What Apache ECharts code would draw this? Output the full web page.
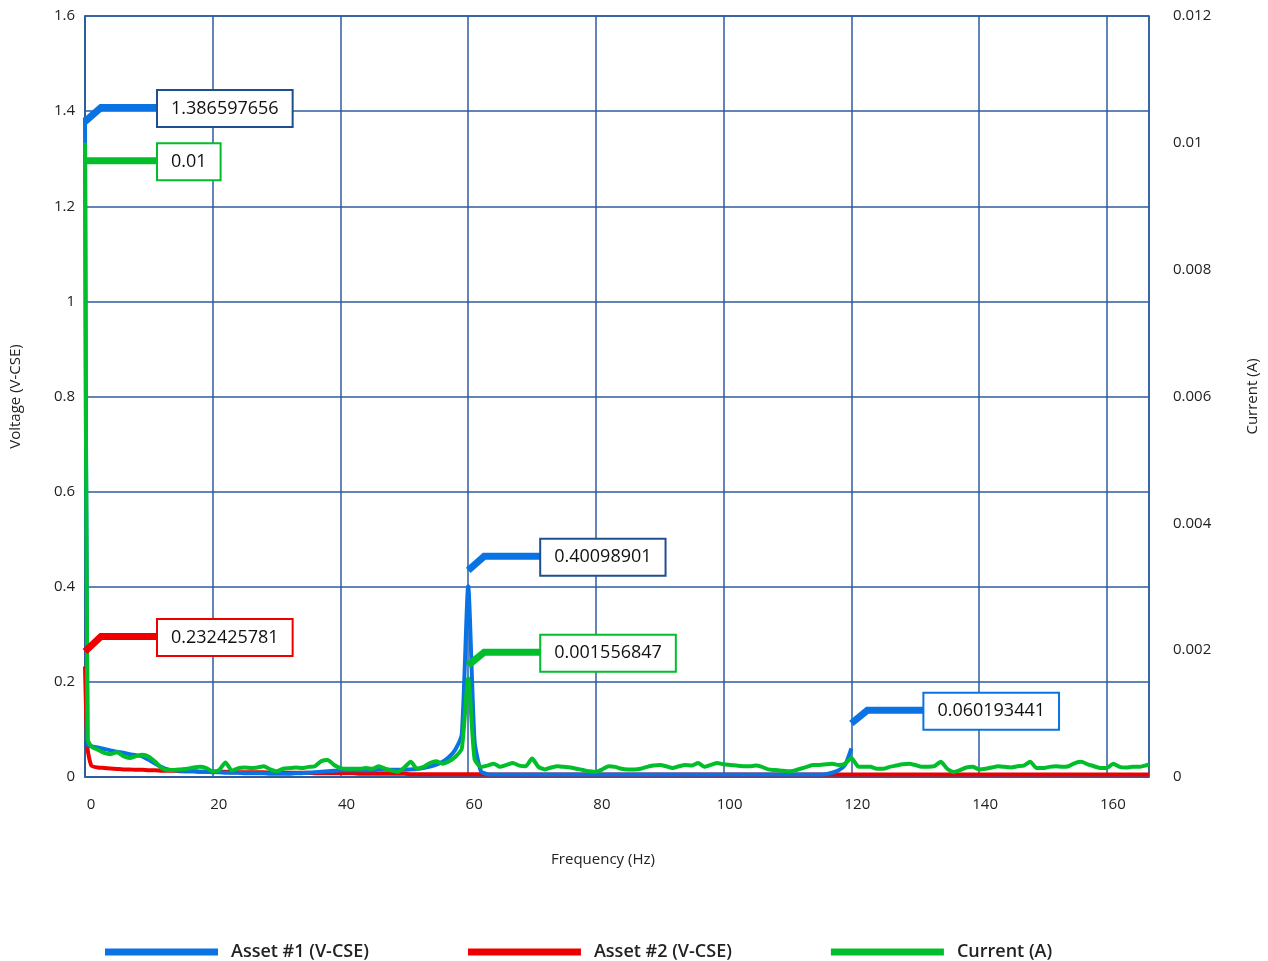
<!DOCTYPE html>
<html>
<head>
<meta charset="utf-8">
<title>Frequency spectrum</title>
<script src="https://cdn.jsdelivr.net/npm/echarts@6/dist/echarts.min.js"></script>
<style>
  html, body { margin: 0; padding: 0; background: #ffffff; }
  #chart { width: 1268px; height: 961px; }
</style>
</head>
<body>
<div id="chart"></div>
<script>
// Frequency bins (Hz)
var frequency = [
  0, 0.4, 1, 2, 3, 4, 5, 6, 7, 8, 9,
  10, 11, 12, 13, 14, 15, 16, 17, 18, 19,
  20, 21, 22, 23, 24, 25, 26, 27, 28, 29,
  30, 31, 32, 33, 34, 35, 36, 37, 38, 39,
  40, 41, 42, 43, 44, 45, 46, 47, 48, 49,
  50, 51, 52, 53, 54, 55, 56, 57, 58, 59,
  60, 61, 62, 63, 64, 65, 66, 67, 68, 69,
  70, 71, 72, 73, 74, 75, 76, 77, 78, 79,
  80, 81, 82, 83, 84, 85, 86, 87, 88, 89,
  90, 91, 92, 93, 94, 95, 96, 97, 98, 99,
  100, 101, 102, 103, 104, 105, 106, 107, 108, 109,
  110, 111, 112, 113, 114, 115, 116, 117, 118, 119,
  120, 121, 122, 123, 124, 125, 126, 127, 128, 129,
  130, 131, 132, 133, 134, 135, 136, 137, 138, 139,
  140, 141, 142, 143, 144, 145, 146, 147, 148, 149,
  150, 151, 152, 153, 154, 155, 156, 157, 158, 159,
  160, 161, 162, 163, 164, 165, 166, 166.6
];

// Asset #1 voltage (V-CSE), recorded up to 120 Hz
var asset1 = [
  1.386597656, 0.068, 0.065, 0.062, 0.059, 0.056, 0.053, 0.051, 0.048, 0.046, 0.043,
  0.036, 0.028, 0.021, 0.016, 0.014, 0.013, 0.012, 0.012, 0.011, 0.011,
  0.010, 0.010, 0.009, 0.009, 0.009, 0.008, 0.008, 0.008, 0.008, 0.007,
  0.007, 0.007, 0.007, 0.008, 0.008, 0.009, 0.010, 0.011, 0.012, 0.013,
  0.014, 0.014, 0.014, 0.014, 0.014, 0.014, 0.015, 0.015, 0.015, 0.015,
  0.015, 0.016, 0.017, 0.019, 0.022, 0.026, 0.032, 0.042, 0.058, 0.090,
  0.40098901, 0.075, 0.012, 0.006, 0.005, 0.005, 0.005, 0.005, 0.005, 0.005,
  0.005, 0.005, 0.005, 0.005, 0.005, 0.005, 0.005, 0.005, 0.005, 0.005,
  0.005, 0.005, 0.005, 0.005, 0.005, 0.005, 0.005, 0.005, 0.005, 0.005,
  0.005, 0.005, 0.005, 0.005, 0.005, 0.005, 0.005, 0.005, 0.005, 0.005,
  0.005, 0.005, 0.005, 0.005, 0.005, 0.005, 0.005, 0.005, 0.005, 0.005,
  0.005, 0.005, 0.005, 0.005, 0.005, 0.005, 0.006, 0.009, 0.014, 0.025,
  0.060193441
];

// Asset #2 voltage (V-CSE)
var asset2 = [
  0.232425781, 0.060, 0.024, 0.020, 0.019, 0.018, 0.017, 0.016, 0.016, 0.015, 0.015,
  0.014, 0.014, 0.013, 0.013, 0.013, 0.012, 0.012, 0.012, 0.011, 0.011,
  0.011, 0.011, 0.011, 0.010, 0.010, 0.010, 0.010, 0.010, 0.010, 0.009,
  0.009, 0.009, 0.009, 0.009, 0.009, 0.009, 0.008, 0.008, 0.008, 0.008,
  0.008, 0.008, 0.008, 0.007, 0.007, 0.007, 0.007, 0.007, 0.007, 0.007,
  0.007, 0.006, 0.006, 0.006, 0.006, 0.006, 0.006, 0.006, 0.006, 0.006,
  0.006, 0.006, 0.006, 0.005, 0.005, 0.005, 0.005, 0.005, 0.005, 0.005,
  0.005, 0.005, 0.005, 0.005, 0.005, 0.005, 0.005, 0.005, 0.005, 0.005,
  0.005, 0.005, 0.005, 0.005, 0.005, 0.005, 0.005, 0.005, 0.005, 0.005,
  0.005, 0.005, 0.005, 0.005, 0.005, 0.005, 0.005, 0.005, 0.005, 0.005,
  0.005, 0.005, 0.005, 0.005, 0.005, 0.005, 0.005, 0.005, 0.005, 0.005,
  0.005, 0.005, 0.005, 0.005, 0.005, 0.005, 0.005, 0.005, 0.005, 0.005,
  0.005, 0.005, 0.005, 0.005, 0.005, 0.005, 0.005, 0.005, 0.005, 0.005,
  0.005, 0.005, 0.005, 0.005, 0.005, 0.005, 0.005, 0.005, 0.005, 0.005,
  0.005, 0.005, 0.005, 0.005, 0.005, 0.005, 0.005, 0.005, 0.005, 0.005,
  0.005, 0.005, 0.005, 0.005, 0.005, 0.005, 0.005, 0.005, 0.005, 0.005,
  0.005, 0.005, 0.005, 0.005, 0.005, 0.005, 0.005, 0.005
];

// Injected current (A)
var current = [
  0.01, 0.0006, 0.00048, 0.00043, 0.00038, 0.00036, 0.00039, 0.00033, 0.0003, 0.00033, 0.00035,
  0.00032, 0.00024, 0.00014, 0.00011, 0.00011, 0.00012, 0.00013, 0.00015, 0.00016, 0.00014,
  0.00009, 0.00011, 0.00023, 0.0001, 0.00014, 0.00015, 0.00014, 0.00015, 0.00017, 0.00012,
  0.00009, 0.00013, 0.00014, 0.00015, 0.00014, 0.00016, 0.00017, 0.00025, 0.00027, 0.00019,
  0.00014, 0.00013, 0.00013, 0.00013, 0.00014, 0.00013, 0.00017, 0.00013, 0.0001, 0.00008,
  0.00015, 0.00024, 0.00013, 0.00016, 0.00022, 0.00025, 0.00021, 0.00025, 0.00032, 0.00045,
  0.001556847, 0.00028, 0.00016, 0.00018, 0.00021, 0.00016, 0.00019, 0.00022, 0.00018, 0.00017,
  0.00029, 0.00016, 0.00012, 0.00015, 0.00017, 0.00016, 0.00015, 0.00013, 0.00011, 0.00009,
  0.00008, 0.00012, 0.00017, 0.00016, 0.00013, 0.00012, 0.00012, 0.00013, 0.00016, 0.00018,
  0.00019, 0.00017, 0.00014, 0.00017, 0.00019, 0.00018, 0.00022, 0.00016, 0.00019, 0.00022,
  0.0002, 0.00019, 0.00018, 0.00017, 0.00017, 0.00018, 0.00016, 0.00012, 0.00011, 0.0001,
  0.00009, 0.0001, 0.00013, 0.00016, 0.00019, 0.00019, 0.0002, 0.00021, 0.00019, 0.00021,
  0.0003, 0.00017, 0.00016, 0.00016, 0.00013, 0.00013, 0.00016, 0.00018, 0.0002, 0.00021,
  0.00019, 0.00016, 0.00016, 0.00017, 0.00024, 0.00013, 0.00008, 0.00011, 0.00015, 0.00016,
  0.00012, 0.00013, 0.00015, 0.00017, 0.00016, 0.00015, 0.00017, 0.00018, 0.00024, 0.00014,
  0.00014, 0.00016, 0.00017, 0.00016, 0.00017, 0.00022, 0.00024, 0.0002, 0.00017, 0.00014,
  0.00014, 0.00021, 0.00016, 0.00015, 0.00016, 0.00016, 0.00018, 0.0002
];

var seriesNames = ['Asset #1 (V-CSE)', 'Asset #2 (V-CSE)', 'Current (A)'];

// Frequencies whose values get a callout, per series
var asset1Callouts = [0, 60, 120];
var asset2Callouts = [0];
var currentCallouts = [0, 60];

var COLORS = {
  asset1: '#0a73e4',
  asset2: '#ee0000',
  current: '#00bf2a',
  grid: '#2c5c9e',
  text: '#222222'
};
var FONT = '"Open Sans", "Noto Sans", sans-serif';

// Callout appearance: anchor shift from the point, rise of the elbow, box border colour
var calloutStyle = {
  'Asset #1 (V-CSE)|0': { dy: 4, rise: 14, border: '#1f4f8f' },
  'Asset #1 (V-CSE)|60': { dy: -16, rise: 14, border: '#1f4f8f' },
  'Asset #1 (V-CSE)|120': { dy: -25, rise: 13, border: '#0a73e4' },
  'Asset #2 (V-CSE)|0': { dy: -15, rise: 15, border: '#ee0000' },
  'Current (A)|0': { dy: 18, rise: 0, border: '#00bf2a' },
  'Current (A)|60': { dy: -13, rise: 13, border: '#00bf2a' }
};

function pairs(values) {
  return values.map(function (v, i) { return [frequency[i], v]; });
}

function calloutData(name, values, freqs) {
  return freqs.map(function (f) {
    var idx = frequency.indexOf(f);
    return { value: [f, values[idx]], name: name };
  });
}

function calloutSeries(name, values, freqs, yAxisIndex, lineColor) {
  return {
    type: 'custom',
    name: name + ' callouts',
    yAxisIndex: yAxisIndex,
    clip: false,
    z: 10,
    silent: true,
    data: calloutData(name, values, freqs),
    renderItem: function (params, api) {
      var f = api.value(0);
      var v = api.value(1);
      var pt = api.coord([f, v]);
      var st = calloutStyle[name + '|' + f];
      var ax = pt[0], ay = pt[1] + st.dy;
      var elbowX = ax + 16, elbowY = ay - st.rise;
      var boxX = ax + 73;
      return {
        type: 'group',
        children: [
          {
            type: 'polyline',
            shape: { points: [[ax, ay], [elbowX, elbowY], [boxX, elbowY]] },
            style: { stroke: lineColor, lineWidth: 7, fill: null, lineJoin: 'miter' }
          },
          {
            type: 'text',
            x: boxX,
            y: elbowY + 1,
            style: {
              text: String(v),
              fill: '#111111',
              font: '500 18px ' + FONT,
              align: 'left',
              verticalAlign: 'middle',
              backgroundColor: '#ffffff',
              borderColor: st.border,
              borderWidth: 2,
              padding: [9, 13, 8, 13]
            }
          }
        ]
      };
    }
  };
}

var chart = echarts.init(document.getElementById('chart'), null, { renderer: 'canvas' });

chart.setOption({
  animation: false,
  backgroundColor: '#ffffff',
  textStyle: { fontFamily: FONT },
  grid: {
    left: 84,
    right: 118,
    top: 16,
    bottom: 184,
    show: true,
    borderColor: COLORS.grid,
    borderWidth: 1.5,
    backgroundColor: 'transparent'
  },
  legend: {
    data: seriesNames,
    left: 100,
    top: 938,
    icon: 'rect',
    itemWidth: 113,
    itemHeight: 7,
    itemGap: 99,
    textStyle: {
      fontFamily: FONT,
      fontSize: 18,
      fontWeight: 600,
      color: COLORS.text,
      padding: [0, 0, 0, 8]
    }
  },
  xAxis: {
    type: 'value',
    min: 0,
    max: 166.6,
    interval: 20,
    name: 'Frequency (Hz)',
    nameLocation: 'middle',
    nameGap: 75,
    nameTextStyle: { fontSize: 15, color: COLORS.text, padding: [0, 28, 0, 0] },
    axisLine: { show: true, lineStyle: { color: COLORS.grid, width: 1.5 } },
    axisTick: { show: false },
    axisLabel: {
      fontSize: 15,
      color: COLORS.text,
      margin: 20,
      padding: [0, 0, 0, 12],
      showMaxLabel: false
    },
    splitLine: { show: true, lineStyle: { color: COLORS.grid, width: 1.5 } }
  },
  yAxis: [
    {
      type: 'value',
      min: 0,
      max: 1.6,
      interval: 0.2,
      name: 'Voltage (V-CSE)',
      nameLocation: 'middle',
      nameRotate: 90,
      nameGap: 62,
      nameTextStyle: { fontSize: 15, color: COLORS.text },
      axisLine: { show: true, lineStyle: { color: COLORS.grid, width: 1.5 } },
      axisTick: { show: false },
      axisLabel: { fontSize: 15, color: COLORS.text, margin: 10 },
      splitLine: { show: true, lineStyle: { color: COLORS.grid, width: 1.5 } }
    },
    {
      type: 'value',
      min: 0,
      max: 0.012,
      interval: 0.002,
      position: 'right',
      name: 'Current (A)',
      nameLocation: 'middle',
      nameRotate: 90,
      nameGap: 96,
      nameTextStyle: { fontSize: 15, color: COLORS.text },
      axisLine: { show: false },
      axisTick: { show: false },
      axisLabel: { fontSize: 15, color: COLORS.text, margin: 24 },
      splitLine: { show: false }
    }
  ],
  series: [
    {
      name: seriesNames[1],
      type: 'line',
      yAxisIndex: 0,
      data: pairs(asset2),
      showSymbol: false,
      smooth: 0.2,
      z: 3,
      itemStyle: { color: COLORS.asset2 },
      lineStyle: { color: COLORS.asset2, width: 4 }
    },
    {
      name: seriesNames[0],
      type: 'line',
      yAxisIndex: 0,
      data: pairs(asset1),
      showSymbol: false,
      smooth: 0.2,
      z: 4,
      itemStyle: { color: COLORS.asset1 },
      lineStyle: { color: COLORS.asset1, width: 4 }
    },
    {
      name: seriesNames[2],
      type: 'line',
      yAxisIndex: 1,
      data: pairs(current),
      showSymbol: false,
      smooth: 0.2,
      z: 5,
      itemStyle: { color: COLORS.current },
      lineStyle: { color: COLORS.current, width: 4 }
    },
    calloutSeries(seriesNames[0], asset1, asset1Callouts, 0, COLORS.asset1),
    calloutSeries(seriesNames[1], asset2, asset2Callouts, 0, COLORS.asset2),
    calloutSeries(seriesNames[2], current, currentCallouts, 1, COLORS.current)
  ]
});
</script>
</body>
</html>
